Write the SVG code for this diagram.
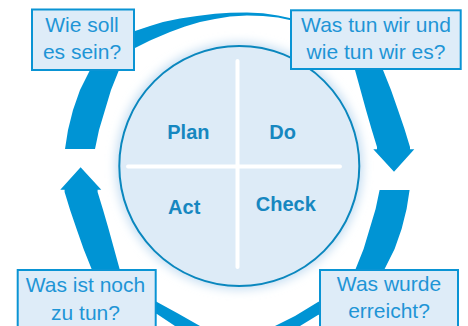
<svg xmlns="http://www.w3.org/2000/svg" width="468" height="326" viewBox="0 0 468 326">
<defs>
<filter id="glow" x="-20%" y="-20%" width="140%" height="140%"><feGaussianBlur stdDeviation="5"/></filter>
<style>
.band{fill:#0094d4;stroke:none}
.box{fill:#deecf8;stroke:#0a94d4;stroke-width:2}
.btxt{font-family:"Liberation Sans",Arial,sans-serif;font-size:21px;fill:#1e95d6;text-anchor:middle}
.lbl{font-family:"Liberation Sans",Arial,sans-serif;font-size:20px;font-weight:bold;fill:#1687c0;text-anchor:middle}
.cross{stroke:#ffffff;stroke-width:4;stroke-linecap:round;fill:none}
</style>
</defs>
<rect width="468" height="326" fill="#ffffff"/>
<g id="connectors">
<path id="arrow-plan-do" class="band" d="M65,149 L68,130 L73,110 L80,90 L90,70 L100,59 L110,50 L122,40 L135,31 L150,26 L163,22 L180,18.5 L197,16 L215,13.8 L230,12.7 L247,12.5 L263,13.3 L278,15.5 L292,18.6 L302,21.5 L292,20.5 L278,17.5 L263,16 L247,15.5 L230,16.5 L215,19 L200,22 L185,26.5 L170,32 L150,40.5 L135,48 L127,59 L119,70 L111,90 L105,110 L99,130 L95,149 Z"/>
<path id="arrow-do-check" class="band" d="M300,16 L320,19 L340,26 L358,37 L372,52 L383,70 L391,90 L398,110 L404.5,129 L410,147 L410,149.3 L414.3,149.3 L394,171.7 L373.3,149.3 L377,149.3 L377,147 L371.5,129 L366,110 L360.5,90 L355,70 L346,56 L335,45 L320,34 Z"/>
<path id="arrow-check-act" class="band" d="M409.6,190 L406.6,209 L401.6,229 L394.6,249 L384.6,269 L374.6,280 L364.6,289 L352.6,299 L339.6,308 L328,312 L318,315 L300,326 L290,335 L262,335 L275,326 L295,316 L318,302 L328,297 L339.6,291 L347.6,280 L355.6,269 L363.6,249 L369.6,229 L375.6,209 L379.6,190 Z"/>
<path id="arrow-act-plan" class="band" d="M185,335 L175,326 L157,314 L140,310 L125,305 L110,296 L98,283 L91.6,269 L83.6,249 L76.6,229 L70.1,210 L64.6,192 L64.6,189.7 L60.3,189.7 L80.6,167.3 L101.3,189.7 L97.6,189.7 L97.6,192 L103.1,210 L108.6,229 L114.1,249 L119.6,269 L128,282 L140,292 L157,302 L178,313.5 L200,326 L214,335 Z"/>
</g>
<g id="pdca-circle">
<circle cx="239.3" cy="166" r="124" fill="#c9e0f3" filter="url(#glow)"/>
<circle cx="239.3" cy="166" r="120" fill="#ddebf7" stroke="#0a87be" stroke-width="2"/>
<line class="cross" x1="237.5" y1="61" x2="237.5" y2="267"/>
<line class="cross" x1="128" y1="166.5" x2="340" y2="166.5"/>
</g>
<g id="plan"><text class="lbl" x="188.4" y="139">Plan</text></g>
<g id="do"><text class="lbl" x="282.7" y="139">Do</text></g>
<g id="act"><text class="lbl" x="184.2" y="214">Act</text></g>
<g id="check"><text class="lbl" x="285.8" y="210.7">Check</text></g>
<g id="box-wie-soll">
<rect class="box" x="32" y="9.5" width="102" height="60.5"/>
<text class="btxt" x="82" y="31.7">Wie soll</text>
<text class="btxt" x="82" y="59.3">es sein?</text>
</g>
<g id="box-was-tun">
<rect class="box" x="291" y="10.3" width="169.7" height="58.7"/>
<text class="btxt" x="376" y="31.7">Was tun wir und</text>
<text class="btxt" x="376" y="59.3">wie tun wir es?</text>
</g>
<g id="box-was-ist-noch">
<rect class="box" x="17.7" y="270" width="138" height="70"/>
<text class="btxt" x="85.5" y="292.3">Was ist noch</text>
<text class="btxt" x="85.5" y="319.7">zu tun?</text>
</g>
<g id="box-was-wurde">
<rect class="box" x="320" y="270" width="138" height="70"/>
<text class="btxt" x="389" y="291.3">Was wurde</text>
<text class="btxt" x="389" y="318">erreicht?</text>
</g>
</svg>
